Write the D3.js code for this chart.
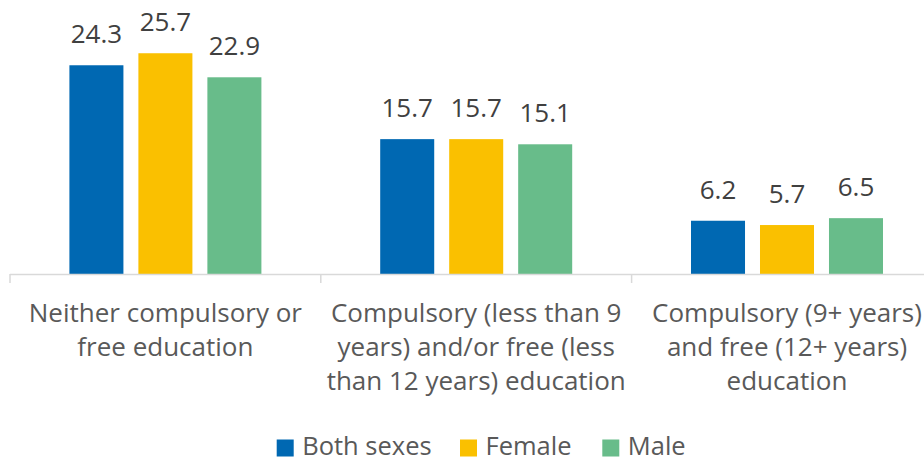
<!DOCTYPE html>
<html>
<head>
<meta charset="utf-8">
<script src="https://cdn.jsdelivr.net/npm/d3@7"></script>
<style>
  body { margin: 0; background: #fff; overflow: hidden; }
  text { font-family: "Open Sans", sans-serif; }
</style>
</head>
<body>
<div id="container"></div>
<script>
/* DATA */
const categories = [
  ["Neither compulsory or", "free education"],
  ["Compulsory (less than 9", "years) and/or free (less", "than 12 years) education"],
  ["Compulsory (9+ years)", "and free (12+ years)", "education"],
];
const series = ["Both sexes", "Female", "Male"];
const bothSexes = [24.3, 15.7, 6.2];
const female = [25.7, 15.7, 5.7];
const male = [22.9, 15.1, 6.5];
const colors = ["#0068b2", "#fac000", "#68bc8a"];

/* CONSTANTS */
const width = 924;
const height = 461;
const baseline = 274;
const groupW = 310.8;
const axisLeft = 10;
const textColor = "#595959";

const data = categories.map((c, i) => ({
  idx: i,
  lines: c,
  values: [bothSexes[i], female[i], male[i]],
}));

/* SCALES */
const xGroup = d3
  .scaleBand()
  .domain(data.map((d) => d.idx))
  .range([axisLeft, axisLeft + groupW * categories.length])
  .padding(0);

const xSeries = d3
  .scaleBand()
  .domain(series)
  .range([0, groupW])
  .paddingInner(0.217)
  .paddingOuter(0.861);

const yScale = d3.scaleLinear().domain([0, 30]).range([baseline, baseline - 8.59 * 30]);

const colorScale = d3.scaleOrdinal().domain(series).range(colors);

/* SVG */
const svg = d3
  .select("#container")
  .append("svg")
  .attr("width", width)
  .attr("height", height);

// BARS ------------------------------------------
const groups = svg
  .selectAll(".group")
  .data(data)
  .join("g")
  .attr("class", "group")
  .attr("transform", (d) => `translate(${xGroup(d.idx)},0)`);

groups
  .selectAll("rect")
  .data((d) => d.values.map((v, j) => ({ key: series[j], value: v })))
  .join("rect")
  .attr("x", (d) => xSeries(d.key))
  .attr("y", (d) => yScale(d.value))
  .attr("width", xSeries.bandwidth())
  .attr("height", (d) => baseline - yScale(d.value))
  .attr("fill", (d) => colorScale(d.key));

// value labels
groups
  .selectAll(".val")
  .data((d) => d.values.map((v, j) => ({ key: series[j], value: v })))
  .join("text")
  .attr("class", "val")
  .attr("x", (d) => xSeries(d.key) + xSeries.bandwidth() / 2)
  .attr("y", (d) => yScale(d.value) - 22)
  .attr("text-anchor", "middle")
  .style("font-size", "26px")
  .attr("fill", "#404040")
  .text((d) => d.value.toFixed(1));

// AXIS ------------------------------------------
svg
  .append("line")
  .attr("x1", axisLeft)
  .attr("x2", axisLeft + groupW * categories.length)
  .attr("y1", baseline + 0.5)
  .attr("y2", baseline + 0.5)
  .attr("stroke", "#d9d9d9")
  .attr("stroke-width", 1.5);

svg
  .selectAll(".tick")
  .data(d3.range(categories.length + 1))
  .join("line")
  .attr("class", "tick")
  .attr("x1", (i) => axisLeft + groupW * i)
  .attr("x2", (i) => axisLeft + groupW * i)
  .attr("y1", baseline)
  .attr("y2", baseline + 9)
  .attr("stroke", "#d9d9d9")
  .attr("stroke-width", 1.5);

// category labels
groups
  .append("text")
  .attr("text-anchor", "middle")
  .style("font-size", "26px")
  .attr("fill", textColor)
  .selectAll("tspan")
  .data((d) => d.lines)
  .join("tspan")
  .attr("x", groupW / 2)
  .attr("y", (_, i) => 321.7 + i * 34.3)
  .text((d) => d);

// LEGEND ----------------------------------------
const legendX = [276.7, 460, 602.3];
const legend = svg
  .selectAll(".legend")
  .data(series)
  .join("g")
  .attr("class", "legend")
  .attr("transform", (d, i) => `translate(${legendX[i]},0)`);

legend
  .append("rect")
  .attr("x", 0)
  .attr("y", 439.5)
  .attr("width", 17)
  .attr("height", 17)
  .attr("fill", (d) => colorScale(d));

legend
  .append("text")
  .attr("x", 25.5)
  .attr("y", 454.5)
  .style("font-size", "25.5px")
  .attr("fill", textColor)
  .text((d) => d);
</script>
</body>
</html>
